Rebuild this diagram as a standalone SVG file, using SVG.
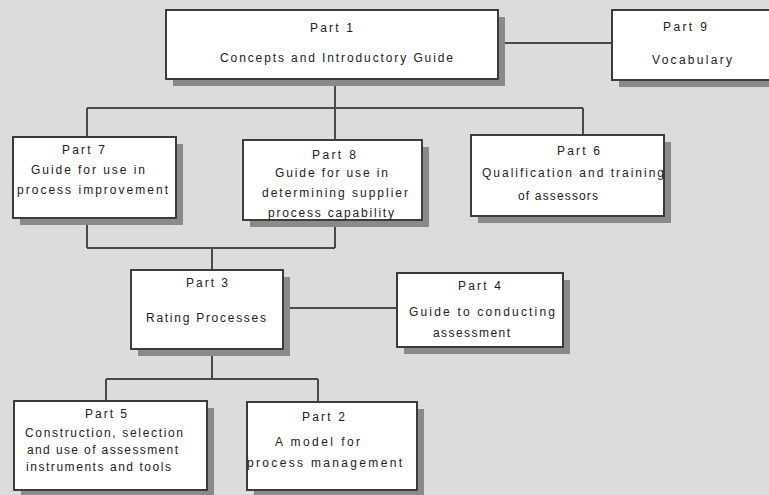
<svg xmlns="http://www.w3.org/2000/svg" width="769" height="495" viewBox="0 0 769 495">
<style>
.bg{fill:#dcdcdc}
.sh{fill:#8a8a8a}
.box{fill:#ffffff;stroke:#3c3c3c;stroke-width:2}
.ln{fill:none;stroke:#4a4a4a;stroke-width:2}
text{font-family:"Liberation Sans",Arial,sans-serif;font-size:12px;fill:#222222}
</style>
<rect class="bg" x="0" y="0" width="769" height="495"/>
<g id="connectors">
<path class="ln" d="M498,43 H612"/>
<path class="ln" d="M335,79 V108 M87,108 H583 M87,108 V137 M335,108 V140 M583,108 V135"/>
<path class="ln" d="M87,218 V248 M335,220 V248 M87,248 H335 M212,248 V270"/>
<path class="ln" d="M283,308 H397"/>
<path class="ln" d="M212,349 V379 M106,379 H318 M106,379 V401 M318,379 V402"/>
</g>
<g id="part1">
<rect class="sh" x="173" y="17" width="332" height="69"/>
<rect class="box" x="166" y="10" width="332" height="69"/>
<text x="310" y="32" textLength="43" lengthAdjust="spacing">Part 1</text>
<text x="220" y="62" textLength="233" lengthAdjust="spacing">Concepts and Introductory Guide</text>
</g>
<g id="part9">
<rect class="sh" x="619" y="17" width="170" height="70"/>
<rect class="box" x="612" y="10" width="170" height="70"/>
<text x="663" y="31" textLength="44" lengthAdjust="spacing">Part 9</text>
<text x="652" y="64" textLength="80" lengthAdjust="spacing">Vocabulary</text>
</g>
<g id="part7">
<rect class="sh" x="20" y="144" width="163" height="81"/>
<rect class="box" x="13" y="137" width="163" height="81"/>
<text x="62" y="154" textLength="43" lengthAdjust="spacing">Part 7</text>
<text x="31" y="174" textLength="114" lengthAdjust="spacing">Guide for use in</text>
<text x="17" y="194" textLength="151" lengthAdjust="spacing">process improvement</text>
</g>
<g id="part8">
<rect class="sh" x="250" y="147" width="179" height="80"/>
<rect class="box" x="243" y="140" width="179" height="80"/>
<text x="312" y="159" textLength="44" lengthAdjust="spacing">Part 8</text>
<text x="275" y="177" textLength="113" lengthAdjust="spacing">Guide for use in</text>
<text x="262" y="197" textLength="146" lengthAdjust="spacing">determining supplier</text>
<text x="268" y="217" textLength="126" lengthAdjust="spacing">process capability</text>
</g>
<g id="part6">
<rect class="sh" x="478" y="142" width="193" height="81"/>
<rect class="box" x="471" y="135" width="193" height="81"/>
<text x="557" y="155" textLength="43" lengthAdjust="spacing">Part 6</text>
<text x="482" y="177" textLength="182" lengthAdjust="spacing">Qualification and training</text>
<text x="518" y="200" textLength="80" lengthAdjust="spacing">of assessors</text>
</g>
<g id="part3">
<rect class="sh" x="138" y="277" width="152" height="79"/>
<rect class="box" x="131" y="270" width="152" height="79"/>
<text x="186" y="287" textLength="42" lengthAdjust="spacing">Part 3</text>
<text x="146" y="322" textLength="120" lengthAdjust="spacing">Rating Processes</text>
</g>
<g id="part4">
<rect class="sh" x="404" y="280" width="166" height="74"/>
<rect class="box" x="397" y="273" width="166" height="74"/>
<text x="458" y="290" textLength="43" lengthAdjust="spacing">Part 4</text>
<text x="409" y="316" textLength="146" lengthAdjust="spacing">Guide to conducting</text>
<text x="433" y="337" textLength="77" lengthAdjust="spacing">assessment</text>
</g>
<g id="part5">
<rect class="sh" x="21" y="408" width="193" height="89"/>
<rect class="box" x="14" y="401" width="193" height="89"/>
<text x="85" y="418" textLength="42" lengthAdjust="spacing">Part 5</text>
<text x="25" y="437" textLength="158" lengthAdjust="spacing">Construction, selection</text>
<text x="27" y="454" textLength="151" lengthAdjust="spacing">and use of assessment</text>
<text x="26" y="471" textLength="145" lengthAdjust="spacing">instruments and tools</text>
</g>
<g id="part2">
<rect class="sh" x="254" y="409" width="170" height="88"/>
<rect class="box" x="247" y="402" width="170" height="88"/>
<text x="302" y="421" textLength="43" lengthAdjust="spacing">Part 2</text>
<text x="275" y="446" textLength="85" lengthAdjust="spacing">A model for</text>
<text x="247" y="467" textLength="155" lengthAdjust="spacing">process management</text>
</g>
</svg>
